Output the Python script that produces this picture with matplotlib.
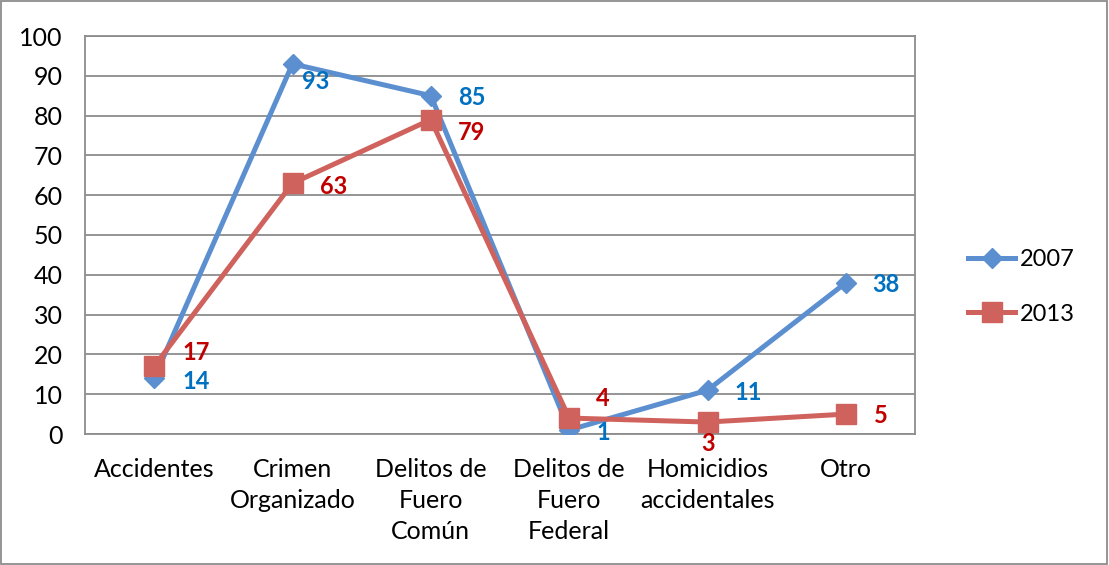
import matplotlib
matplotlib.use("Agg")
import matplotlib.pyplot as plt
from matplotlib.patches import Rectangle

categories = ["Accidentes", "Crimen\nOrganizado", "Delitos de\nFuero\nComún",
              "Delitos de\nFuero\nFederal", "Homicidios\naccidentales", "Otro"]
series_2007 = [14, 93, 85, 1, 11, 38]
series_2013 = [17, 63, 79, 4, 3, 5]
yticks = [0, 10, 20, 30, 40, 50, 60, 70, 80, 90, 100]

off_2007 = [(42, -3), (23, -18), (41, -2), (34, -2), (41, -2), (40, -2)]
off_2013 = [(42, 14), (41, -3), (41, -13), (34, 20), (1, -21), (35, -1)]

plt.rcParams['font.family'] = ['Lato', 'DejaVu Sans']

fig = plt.figure(figsize=(11.09, 5.65), dpi=100)
ax = fig.add_axes([85/1109, 1-434/565, 830/1109, 398/565])

blue = "#5b8fcf"
red = "#cf625d"
x = list(range(len(categories)))
l1, = ax.plot(x, series_2007, color=blue, lw=3.6, marker="D", ms=10,
              markerfacecolor=blue, markeredgecolor=blue, label="2007", zorder=3)
l2, = ax.plot(x, series_2013, color=red, lw=3.6, marker="s", ms=14,
              markerfacecolor=red, markeredgecolor=red, label="2013", zorder=4)

for xi, v, o in zip(x, series_2007, off_2007):
    ax.annotate(str(v), (xi, v), xytext=o, textcoords="offset pixels",
                ha="center", va="center", color="#0070C0", fontsize=17,
                fontweight="bold", zorder=5)
for xi, v, o in zip(x, series_2013, off_2013):
    ax.annotate(str(v), (xi, v), xytext=o, textcoords="offset pixels",
                ha="center", va="center", color="#C00000", fontsize=17,
                fontweight="bold", zorder=5)

ax.set_xlim(-0.5, len(categories) - 0.5)
ax.set_ylim(0, 100)
ax.set_yticks(yticks)
ax.set_xticks(x)
ax.set_xticklabels(categories, fontsize=18, linespacing=1.43, va="top")
ax.tick_params(axis="y", labelsize=18, length=0, pad=16)
ax.tick_params(axis="x", length=0, pad=17)
ax.grid(axis="y", color="#8c8c8c", lw=1.3)
ax.set_axisbelow(True)
for s in ax.spines.values():
    s.set_color("#8c8c8c")
    s.set_linewidth(1.3)

fig.legend(handles=[l1, l2], loc="center left", bbox_to_anchor=(947/1109, 1-287/565),
           frameon=False, fontsize=17, handlelength=2.0, labelspacing=1.4,
           handletextpad=0.2)

fig.patches.append(Rectangle((0.001, 0.001), 0.997, 0.997, transform=fig.transFigure,
                             fill=False, edgecolor="#8c8c8c", lw=1.3))

fig.savefig("out.png", dpi=100)
